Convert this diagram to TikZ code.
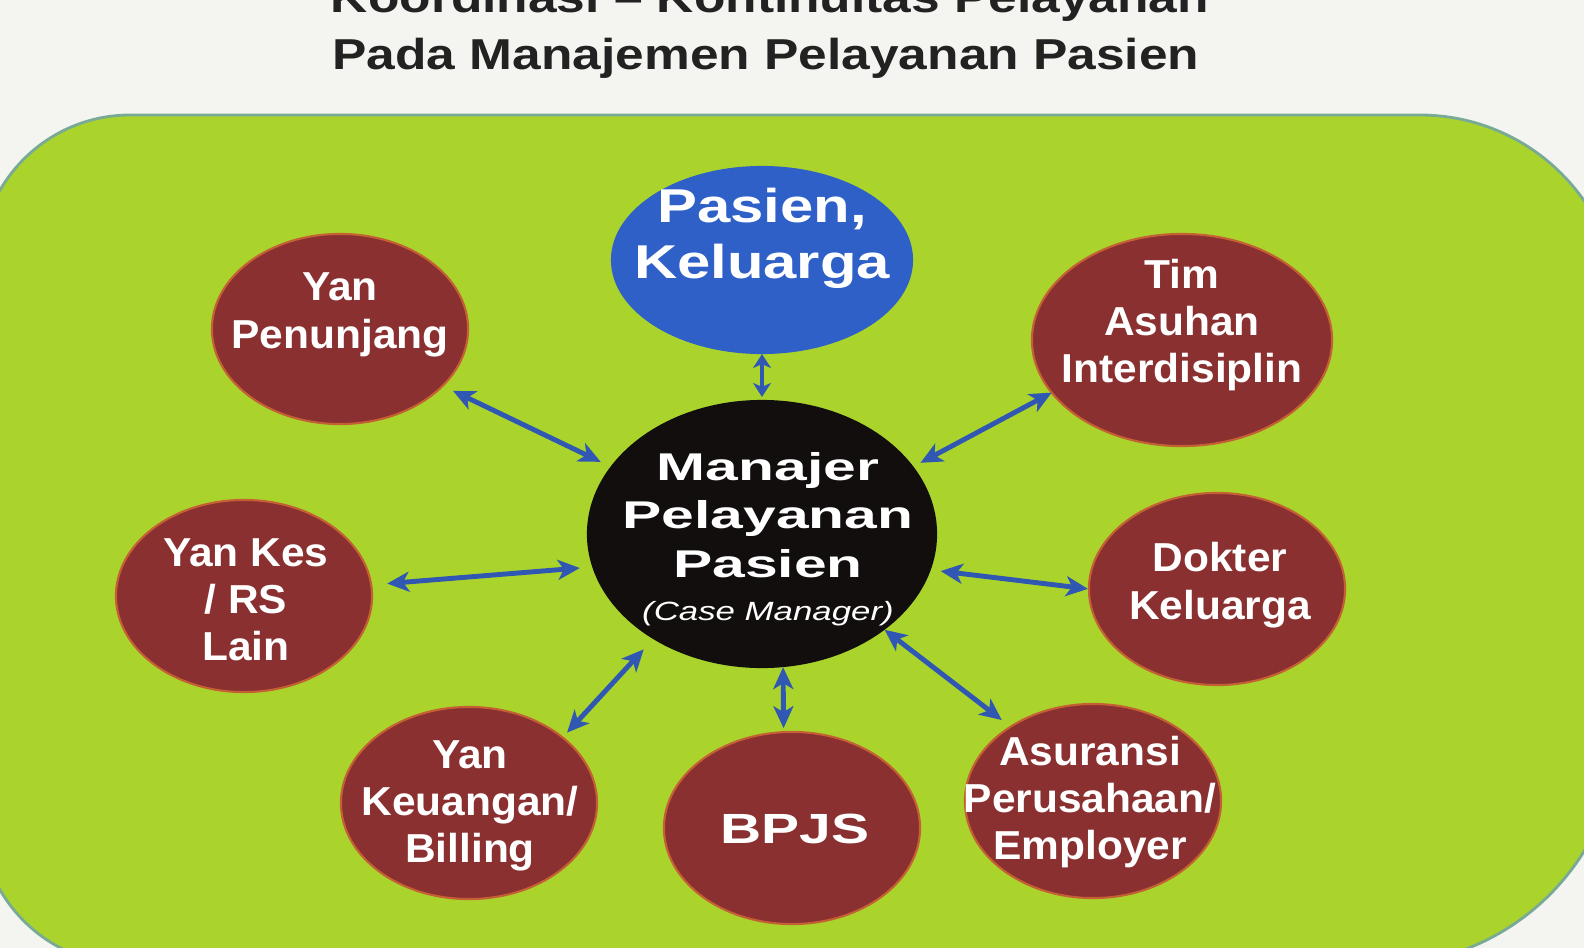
\documentclass[tikz,border=0pt]{standalone}
\usepackage{fontspec}
\setmainfont{Liberation Sans}
\usepackage{graphicx}
\usetikzlibrary{shapes.geometric,arrows.meta}
\definecolor{bgpaper}{RGB}{244,244,241}
\definecolor{leaf}{RGB}{170,212,44}
\definecolor{leafedge}{RGB}{120,170,150}
\definecolor{maroonfill}{RGB}{138,48,48}
\definecolor{maroonedge}{RGB}{196,96,52}
\definecolor{pblue}{RGB}{46,96,200}
\definecolor{arrowblue}{RGB}{48,88,178}
\definecolor{titlegray}{RGB}{34,34,34}
\definecolor{nearblack}{RGB}{18,14,14}
\newcommand{\hsx}[2]{\scalebox{#1}[1]{\begin{tabular}{@{}c@{}}#2\end{tabular}}}
\begin{document}
\begin{tikzpicture}[x=0.01cm,y=-0.01cm,
  sat/.style={ellipse, fill=maroonfill, draw=maroonedge, line width=0.6pt, inner sep=0pt, outer sep=0pt},
  hub/.style={ellipse, fill=nearblack, inner sep=0pt, outer sep=0pt},
  fam/.style={ellipse, fill=pblue, inner sep=0pt, outer sep=0pt},
  wt/.style={text=white, inner sep=0pt, font=\bfseries\fontsize{11.5pt}{13.5pt}\selectfont},
  ttl/.style={anchor=base, text=titlegray, inner sep=0pt, font=\bfseries\fontsize{12.3pt}{15pt}\selectfont},
  link/.style={draw=arrowblue, line width=1.4pt, >={Stealth[length=2.2mm,width=2.0mm,inset=0.6mm]}, <->},
  shortlink/.style={draw=arrowblue, line width=1.4pt, >={Stealth[length=1.4mm,width=1.8mm,inset=0.4mm]}, <->}]
\useasboundingbox (0,0) rectangle (1584,948);
\fill[bgpaper] (0,0) rectangle (1584,948);
\begin{scope}
\clip (0,0) rectangle (1584,948);
\filldraw[fill=leaf, draw=leafedge, line width=0.8pt] (-20,540) [rounded corners=1.5cm] -- (-20,115) -- (800,115) [rounded corners=2cm] -- (1620,115) -- (1620,540) [rounded corners=2.4cm] -- (1620,965) -- (800,965) [rounded corners=1.5cm] -- (-20,965) -- cycle;
\node[ttl] (t1) at (770,12) {\scalebox{1.19}[1]{Koordinasi – Kontinuitas Pelayanan}};
\end{scope}
\node[ttl] (t2) at (766,69) {\scalebox{1.19}[1]{Pada Manajemen Pelayanan Pasien}};

% shapes
\node[fam, minimum width=3.02cm, minimum height=1.88cm] (pk) at (762,260) {};
\node[hub, minimum width=3.50cm, minimum height=2.68cm] (mgr) at (762,534) {};
\node[sat, minimum width=2.56cm, minimum height=1.90cm] (yp) at (340,329) {};
\node[sat, minimum width=3.00cm, minimum height=2.12cm] (tai) at (1182,340) {};
\node[sat, minimum width=2.56cm, minimum height=1.92cm] (ykr) at (244,596) {};
\node[sat, minimum width=2.56cm, minimum height=1.92cm] (dk) at (1217,589) {};
\node[sat, minimum width=2.56cm, minimum height=1.92cm] (ykb) at (469,803) {};
\node[sat, minimum width=2.56cm, minimum height=1.92cm] (bpjs) at (792,828) {};
\node[sat, minimum width=2.56cm, minimum height=1.94cm] (asu) at (1093,801) {};

% texts
\node[wt, font=\bfseries\fontsize{13.5pt}{15.93pt}\selectfont] (pkt) at (762,239) {\hsx{1.26}{Pasien,\\Keluarga}};
\node[wt, font=\bfseries\fontsize{11pt}{13.8pt}\selectfont] (mgrt) at (768,519) {\hsx{1.52}{Manajer\\Pelayanan\\Pasien}};
\node[wt, anchor=base, font=\itshape\fontsize{7.5pt}{9pt}\selectfont] (cmt) at (768,620) {\scalebox{1.32}[1]{(Case Manager)}};
\node[wt] (ypt) at (340,315) {\hsx{1.05}{Yan\\Penunjang}};
\node[wt] (tait) at (1182,326) {\hsx{1.05}{Tim\\Asuhan\\Interdisiplin}};
\node[wt] (ykrt) at (246,604) {\hsx{1.05}{Yan Kes\\/ RS\\Lain}};
\node[wt] (dkt) at (1220,586) {\hsx{1.05}{Dokter\\Keluarga}};
\node[wt] (ykbt) at (470,806) {\hsx{1.05}{Yan\\Keuangan/\\Billing}};
\node[wt, anchor=base, font=\bfseries\fontsize{12pt}{14pt}\selectfont] (bpjst) at (795,843) {\scalebox{1.35}[1]{BPJS}};
\node[wt] (asut) at (1090,803) {\hsx{1.05}{Asuransi\\Perusahaan/\\Employer}};

% connectors
\draw[link, shorten <=0.115cm, shorten >=0.11cm] (yp.-29.4) -- (mgr.156.3);
\draw[link, shorten <=0.16cm, shorten >=0.125cm] (ykr.5.2) -- (mgr.-169.1);
\draw[link, shorten <=0cm, shorten >=0.08cm] (tai.-158) -- (mgr.24.2);
\draw[link, shorten <=0.01cm, shorten >=0.10cm] (dk.180) -- (mgr.-12.4);
\draw[link, shorten <=0.065cm, shorten >=0.14cm] (ykb.35.5) -- (mgr.-136.5);
\draw[link, shorten <=0.04cm, shorten >=0cm] (bpjs.95.1) -- (mgr.-81);
\draw[link, shorten <=0.11cm, shorten >=0cm] (asu.138.3) -- (mgr.-38);
\draw[shortlink, shorten <=0cm, shorten >=0.03cm] (pk.-90) -- (mgr.90);
\end{tikzpicture}
\end{document}
